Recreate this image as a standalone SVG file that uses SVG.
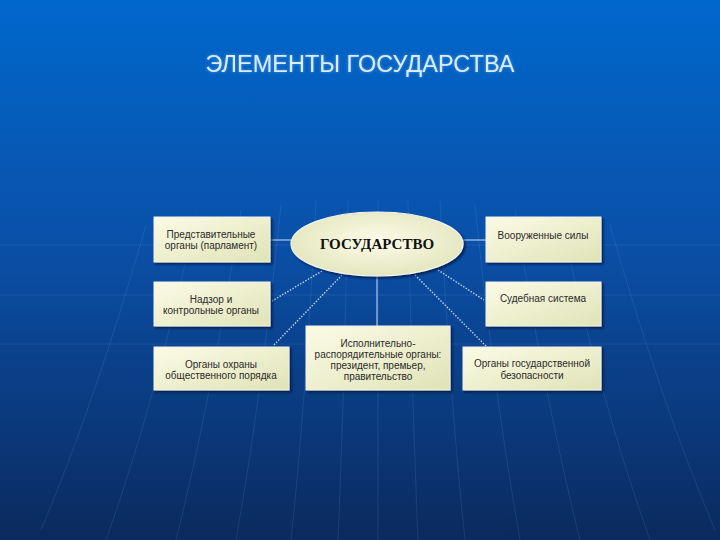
<svg xmlns="http://www.w3.org/2000/svg" width="720" height="540" viewBox="0 0 720 540">
<defs>
<linearGradient id="bg" x1="0" y1="0" x2="0" y2="1">
<stop offset="0" stop-color="#0068cc"/>
<stop offset="0.45" stop-color="#0a50a8"/>
<stop offset="1" stop-color="#0b2a5e"/>
</linearGradient>
<linearGradient id="boxfill" x1="0" y1="0" x2="1" y2="1">
<stop offset="0" stop-color="#fbfbe6"/>
<stop offset="1" stop-color="#dfe3b6"/>
</linearGradient>
<radialGradient id="ellfill" cx="0.5" cy="0.45" r="0.6">
<stop offset="0" stop-color="#fcfce8"/>
<stop offset="1" stop-color="#e2e4bc"/>
</radialGradient>
<filter id="sh" x="-10%" y="-10%" width="130%" height="140%">
<feDropShadow dx="2" dy="2" stdDeviation="1.2" flood-color="#001030" flood-opacity="0.7"/>
</filter>
<filter id="glow" x="-5%" y="-30%" width="110%" height="160%">
<feGaussianBlur in="SourceAlpha" stdDeviation="1.5" result="b"/>
<feFlood flood-color="#7fc0ff" flood-opacity="0.6"/>
<feComposite in2="b" operator="in" result="g"/>
<feMerge><feMergeNode in="g"/><feMergeNode in="SourceGraphic"/></feMerge>
</filter>
</defs>
<style>
.box{fill:url(#boxfill);stroke:#f0f0f0;stroke-width:1;filter:url(#sh);}
.t{font-family:"Liberation Sans",Arial,sans-serif;font-size:10px;fill:#2a2a2a;text-anchor:middle;}
.solid{stroke:#a8c8e8;stroke-width:1.2;fill:none;}
.dot{stroke:#b8d4f0;stroke-width:1.4;stroke-dasharray:1.5 1.5;fill:none;}
.deco{stroke:#6fa0e0;stroke-width:1;fill:none;opacity:0.16;}
</style>
<rect width="720" height="540" fill="url(#bg)"/>
<g id="decor">
<line class="deco" x1="0" y1="245" x2="720" y2="245"/>
<line class="deco" x1="0" y1="295" x2="720" y2="295"/>
<line class="deco" x1="0" y1="344" x2="720" y2="344"/>
<path class="deco" d="M378 200 L378 540"/>
<path class="deco" d="M408 200 Q412 400 418 540"/>
<path class="deco" d="M348 200 Q344 400 338 540"/>
<path class="deco" d="M440 200 Q450 400 465 540"/>
<path class="deco" d="M316 200 Q306 400 291 540"/>
<path class="deco" d="M475 205 Q495 400 520 540"/>
<path class="deco" d="M281 205 Q261 400 236 540"/>
<path class="deco" d="M515 210 Q545 400 580 540"/>
<path class="deco" d="M241 210 Q211 400 176 540"/>
<path class="deco" d="M560 215 Q600 400 650 540"/>
<path class="deco" d="M196 215 Q156 400 106 540"/>
<path class="deco" d="M610 225 Q660 400 715 530"/>
<path class="deco" d="M146 225 Q96 400 41 530"/>
</g>
<text x="360" y="72" font-family="&quot;Liberation Sans&quot;,Arial,sans-serif" font-size="23.5" fill="#dcecff" text-anchor="middle" filter="url(#glow)">ЭЛЕМЕНТЫ ГОСУДАРСТВА</text>
<g id="connectors">
<line class="solid" x1="270" y1="240" x2="291" y2="240"/>
<line class="solid" x1="462" y1="240" x2="486" y2="240"/>
<line class="solid" x1="377" y1="277" x2="377" y2="326"/>
<line class="dot" x1="322" y1="271" x2="272" y2="301"/>
<line class="dot" x1="342" y1="275" x2="273" y2="346"/>
<line class="dot" x1="438" y1="270" x2="484" y2="300"/>
<line class="dot" x1="415" y1="275" x2="486" y2="346"/>
</g>
<g id="center">
<ellipse cx="377" cy="244" rx="86" ry="32" fill="url(#ellfill)" stroke="#f4f4f4" stroke-width="1.2" filter="url(#sh)"/>
<text x="377" y="249" font-family="&quot;Liberation Serif&quot;,'Times New Roman',serif" font-size="15" font-weight="bold" fill="#111" text-anchor="middle">ГОСУДАРСТВО</text>
</g>
<g id="parliament">
<rect class="box" x="154" y="217" width="116" height="45"/>
<text class="t" x="211" y="238">Представительные</text>
<text class="t" x="211" y="249">органы (парламент)</text>
</g>
<g id="control">
<rect class="box" x="154" y="282" width="116" height="44"/>
<text class="t" x="211" y="303">Надзор и</text>
<text class="t" x="211" y="314">контрольные органы</text>
</g>
<g id="order">
<rect class="box" x="154" y="347" width="135" height="43"/>
<text class="t" x="221" y="368">Органы охраны</text>
<text class="t" x="221" y="379">общественного порядка</text>
</g>
<g id="executive">
<rect class="box" x="306" y="326" width="144" height="64"/>
<text class="t" x="378" y="347">Исполнительно-</text>
<text class="t" x="378" y="358">распорядительные органы:</text>
<text class="t" x="378" y="369">президент, премьер,</text>
<text class="t" x="378" y="380">правительство</text>
</g>
<g id="army">
<rect class="box" x="486" y="217" width="115" height="45"/>
<text class="t" x="543" y="239">Вооруженные силы</text>
</g>
<g id="court">
<rect class="box" x="486" y="282" width="115" height="44"/>
<text class="t" x="543" y="302">Судебная система</text>
</g>
<g id="security">
<rect class="box" x="463" y="347" width="138" height="43"/>
<text class="t" x="532" y="367">Органы государственной</text>
<text class="t" x="532" y="379">безопасности</text>
</g>
</svg>
